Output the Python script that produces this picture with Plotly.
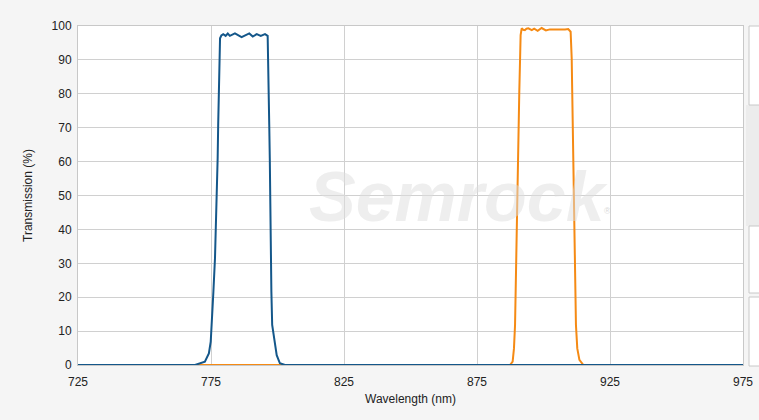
import plotly.graph_objects as go

# Blue filter (~787 nm band)
blue_wl = [725, 765, 769.0, 772.7, 774.2, 774.9, 775.3, 775.9, 776.5, 776.9, 777.3, 777.5, 777.7,
           778.0, 778.1, 778.4, 778.9, 779.6, 780.5, 781.3, 782.1, 784.0, 786.5, 789.4, 790.7,
           792.2, 793.7, 795.3, 796.3, 796.5, 796.8, 796.9, 797.1, 797.2, 797.3, 797.4, 797.7,
           798.0, 798.8, 799.7, 800.9, 802.8, 806, 975]
blue_t = [0, 0, 0.0, 1.0, 3.4, 6.9, 11.8, 21.6, 31.5, 41.3, 51.1, 61.0, 70.8,
          80.6, 90.5, 96.4, 97.2, 97.6, 97.1, 97.8, 97.1, 97.8, 96.7, 97.8, 96.9,
          97.6, 97.1, 97.6, 97.1, 90.5, 80.6, 70.8, 61.0, 51.1, 41.3, 31.5, 21.6,
          11.8, 6.9, 2.9, 0.5, 0.0, 0, 0]

# Orange filter (~900 nm band)
orange_wl = [725, 880, 887.4, 888.4, 888.9, 889.3, 889.5, 889.8, 890.0, 890.1, 890.4, 890.7,
             890.9, 891.2, 891.4, 891.8, 892.4, 893.0, 893.6, 894.3, 895.0, 895.6, 896.5,
             897.8, 899.3, 900.9, 902.4, 904.3, 906.2, 908.1, 909.3, 910.2, 910.6, 910.8,
             911.0, 911.1, 911.2, 911.5, 911.6, 911.8, 912.2, 912.7, 913.5, 915.0, 975]
orange_t = [0, 0, 0.0, 1.0, 4.9, 11.8, 21.6, 31.5, 41.3, 51.1, 61.0, 70.8,
            80.6, 90.5, 97.3, 99.3, 98.9, 98.8, 99.2, 99.3, 99.0, 98.8, 99.2,
            98.6, 99.4, 98.7, 99.0, 98.9, 99.0, 99.0, 99.1, 98.3, 90.5, 80.6,
            70.8, 61.0, 51.1, 41.3, 31.5, 21.6, 11.8, 4.9, 1.5, 0.0, 0]

x_ticks = [725, 775, 825, 875, 925, 975]
y_ticks = [0, 10, 20, 30, 40, 50, 60, 70, 80, 90, 100]

fig = go.Figure()
fig.add_trace(go.Scatter(x=orange_wl, y=orange_t, mode="lines",
                         line=dict(color="#f58a14", width=2), showlegend=False))
fig.add_trace(go.Scatter(x=blue_wl, y=blue_t, mode="lines",
                         line=dict(color="#14578a", width=2), showlegend=False))

font = "Liberation Sans, Arial, sans-serif"
fig.update_layout(
    width=759, height=420,
    margin=dict(l=78, r=16, t=26, b=55, autoexpand=False),
    paper_bgcolor="#f5f5f5",
    plot_bgcolor="#ffffff",
    font=dict(family=font, size=12, color="#222222"),
    xaxis=dict(range=[725, 975], tickvals=x_ticks, ticktext=[str(v) for v in x_ticks],
               showgrid=True, gridcolor="#d0d0d0", gridwidth=1, zeroline=False,
               showline=True, linecolor="#c8c8c8", mirror=True,
               ticks="outside", ticklen=6, tickcolor="rgba(0,0,0,0)",
               title=dict(text="Wavelength (nm)", standoff=6, font=dict(size=12))),
    yaxis=dict(range=[0, 100], tickvals=y_ticks, ticktext=[str(v) for v in y_ticks],
               showgrid=True, gridcolor="#d0d0d0", gridwidth=1, zeroline=False,
               showline=True, linecolor="#c8c8c8", mirror=True,
               ticks="outside", ticklen=3, tickcolor="rgba(0,0,0,0)",
               title=dict(text="Transmission (%)", standoff=16, font=dict(size=12))),
)

# Watermark
fig.add_annotation(x=0.572, y=0.495, xref="paper", yref="paper",
                   text="<b><i>Semrock</i></b>", showarrow=False,
                   font=dict(family=font, size=70, color="rgba(222,222,222,0.5)"))
fig.add_annotation(x=0.805, y=0.455, xref="paper", yref="paper",
                   text="®", showarrow=False,
                   font=dict(family=font, size=9, color="rgba(200,200,200,0.7)"))

# Cut-off panels at right edge
def px_x(p):
    return (p - 78) / 665.0

def px_y(p):
    return (365 - p) / 339.0

fig.add_shape(type="rect", xref="paper", yref="paper",
              x0=px_x(746), x1=px_x(762), y0=px_y(105), y1=px_y(226),
              fillcolor="#ececec", line=dict(width=0), layer="below")
for top, bot in [(26, 105), (226, 293), (297, 366)]:
    fig.add_shape(type="rect", xref="paper", yref="paper",
                  x0=px_x(749), x1=px_x(765), y0=px_y(bot), y1=px_y(top),
                  fillcolor="#ffffff", line=dict(color="#c8c8c8", width=1))

fig.write_html("out.html", config={"displayModeBar": False},
               post_script="document.body.style.margin='0';document.body.style.padding='0';")
